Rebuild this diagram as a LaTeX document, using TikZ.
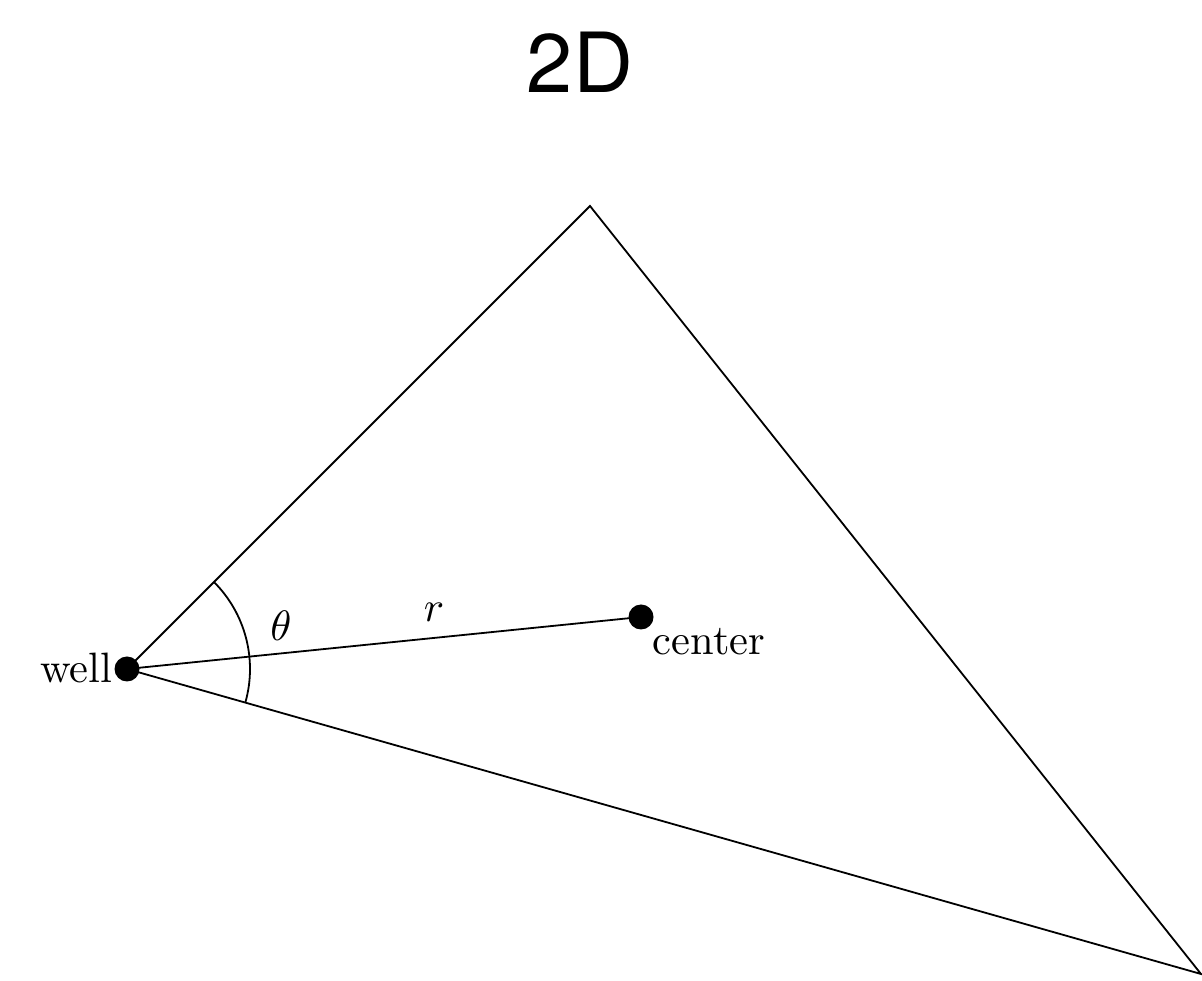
\documentclass[tikz,border=0pt]{standalone}
\usepackage{fontspec}
\newfontfamily\titlefont{TeX Gyre Heros}
\usetikzlibrary{calc}
\begin{document}
\begin{tikzpicture}[x=1pt,y=1pt,
  edge/.style={line width=1.8pt, line join=miter},
  dot/.style={circle, fill=black, inner sep=0pt, minimum size=25pt},
  lbl/.style={font=\normalsize, inner sep=0pt, scale=4.25}]
\useasboundingbox (0,0) rectangle (1202,980);
\coordinate (top) at (590,774);
\coordinate (br) at (1201,6);
\coordinate (w) at (127,311);
\coordinate (c) at (641,363);
\draw[edge] (w) -- (top) -- (br) -- cycle;
\draw[edge] (w) -- (c);
\draw[edge] ($(w)+(45:123)$) arc[start angle=45, end angle=-15.85, radius=123];
\node[dot] (well) at (w) {};
\node[dot] (center) at (c) {};
\node[lbl, anchor=base east] (welllabel) at (113,297) {well};
\node[lbl, anchor=base west] (centerlabel) at (652,325) {center};
\node[lbl] (theta) at (281,354) {$\theta$};
\node[lbl] (r) at (434,368) {$r$};
\node[font=\titlefont\fontsize{83}{100}\selectfont, inner sep=0pt] (title) at (580,918) {2D};
\end{tikzpicture}
\end{document}
